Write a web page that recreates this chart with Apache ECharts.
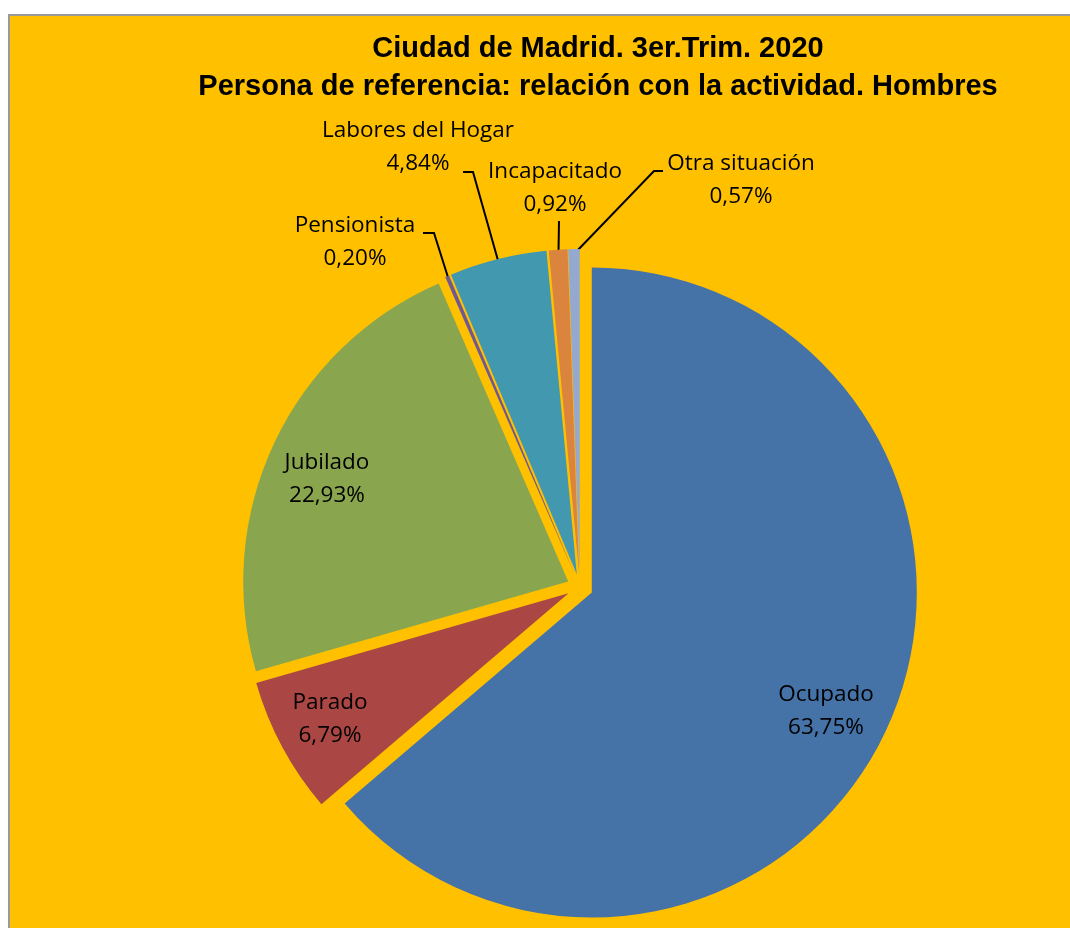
<!DOCTYPE html>
<html>
<head>
<meta charset="utf-8">
<script src="https://cdn.jsdelivr.net/npm/echarts@6/dist/echarts.min.js"></script>
<style>
html, body { margin: 0; padding: 0; background: #ffffff; overflow: hidden; }
#frame { position: absolute; left: 8px; top: 14px; width: 1200px; height: 1000px;
         border: 2px solid #9a9a9a; background: #FFC000; }
#chart { position: absolute; left: 0; top: 0; width: 1070px; height: 928px; }
</style>
</head>
<body>
<div id="frame"></div>
<div id="chart"></div>
<script>
// ---- data ----
const categories = ['Ocupado', 'Parado', 'Jubilado', 'Pensionista', 'Labores del Hogar', 'Incapacitado', 'Otra situación'];
const values = [63.75, 6.79, 22.93, 0.20, 4.84, 0.92, 0.57];
const titleLines = ['Ciudad de Madrid. 3er.Trim. 2020', 'Persona de referencia: relación con la actividad. Hombres'];

// ---- styles / layout ----
const palette = ['#4572A7', '#AA4643', '#89A54E', '#71588F', '#4198AF', '#DB843D', '#93A9CF'];
const CX = 580, CY = 587, R = 325, EXPLODE = 13;
const LABEL_FONT = "'Open Sans', sans-serif";

const labelPlace = {
  'Ocupado':           { x: 826, y: 711 },
  'Parado':            { x: 330, y: 719 },
  'Jubilado':          { x: 327, y: 479 },
  'Pensionista':       { x: 355, y: 242, line: [[434, 233], [423, 233]] },
  'Labores del Hogar': { x: 418, y: 147, line: [[473, 172], [463, 172]] },
  'Incapacitado':      { x: 555, y: 188, line: [[559, 221], [559, 221]] },
  'Otra situación':    { x: 741, y: 180, line: [[654, 171], [663, 171]] }
};

const total = values.reduce((a, b) => a + b, 0);
const mids = [];
let acc = 0;
values.forEach(v => { mids.push((acc + v / 2) / total * 2 * Math.PI); acc += v; });

function fmt(v) { return v.toFixed(2).replace('.', ',') + '%'; }

const series = categories.map((name, k) => {
  const a = mids[k];
  const cx = CX + EXPLODE * Math.sin(a);
  const cy = CY - EXPLODE * Math.cos(a);
  return {
    type: 'pie',
    name: name,
    center: [cx, cy],
    radius: R,
    startAngle: 90,
    clockwise: true,
    avoidLabelOverlap: false,
    silent: true,
    emphasis: { disabled: true },
    data: categories.map((c, j) => ({
      name: c,
      value: values[j],
      itemStyle: j === k ? { color: palette[j] } : { color: 'rgba(0,0,0,0)' },
      label: { show: j === k, position: labelPlace[c].line ? 'outside' : 'inside' },
      labelLine: { show: j === k && !!labelPlace[c].line }
    })),
    label: {
      formatter: p => p.name + '\n' + fmt(p.value),
      color: '#000000',
      fontFamily: LABEL_FONT,
      fontSize: 22.5,
      lineHeight: 33
    },
    labelLine: { lineStyle: { color: '#000000', width: 2 } },
    labelLayout: function (p) {
      const c = categories[p.dataIndex];
      const pl = labelPlace[c];
      const out = { x: pl.x, y: pl.y, align: 'center', verticalAlign: 'middle' };
      if (pl.line) {
        const a2 = mids[p.dataIndex];
        const rr = R - 5;
        const start = [cx + rr * Math.sin(a2), cy - rr * Math.cos(a2)];
        out.labelLinePoints = [start, pl.line[0], pl.line[1]];
      }
      return out;
    }
  };
});

const chart = echarts.init(document.getElementById('chart'));
chart.setOption({
  animation: false,
  backgroundColor: 'transparent',
  graphic: [{
    type: 'text',
    x: 598,
    y: 68,
    style: {
      text: titleLines.join('\n'),
      align: 'center',
      verticalAlign: 'middle',
      fontFamily: "'Liberation Sans', Arial, sans-serif",
      fontWeight: 'bold',
      fontSize: 29,
      lineHeight: 38,
      fill: '#000000'
    }
  }],
  series: series
});
</script>
</body>
</html>
